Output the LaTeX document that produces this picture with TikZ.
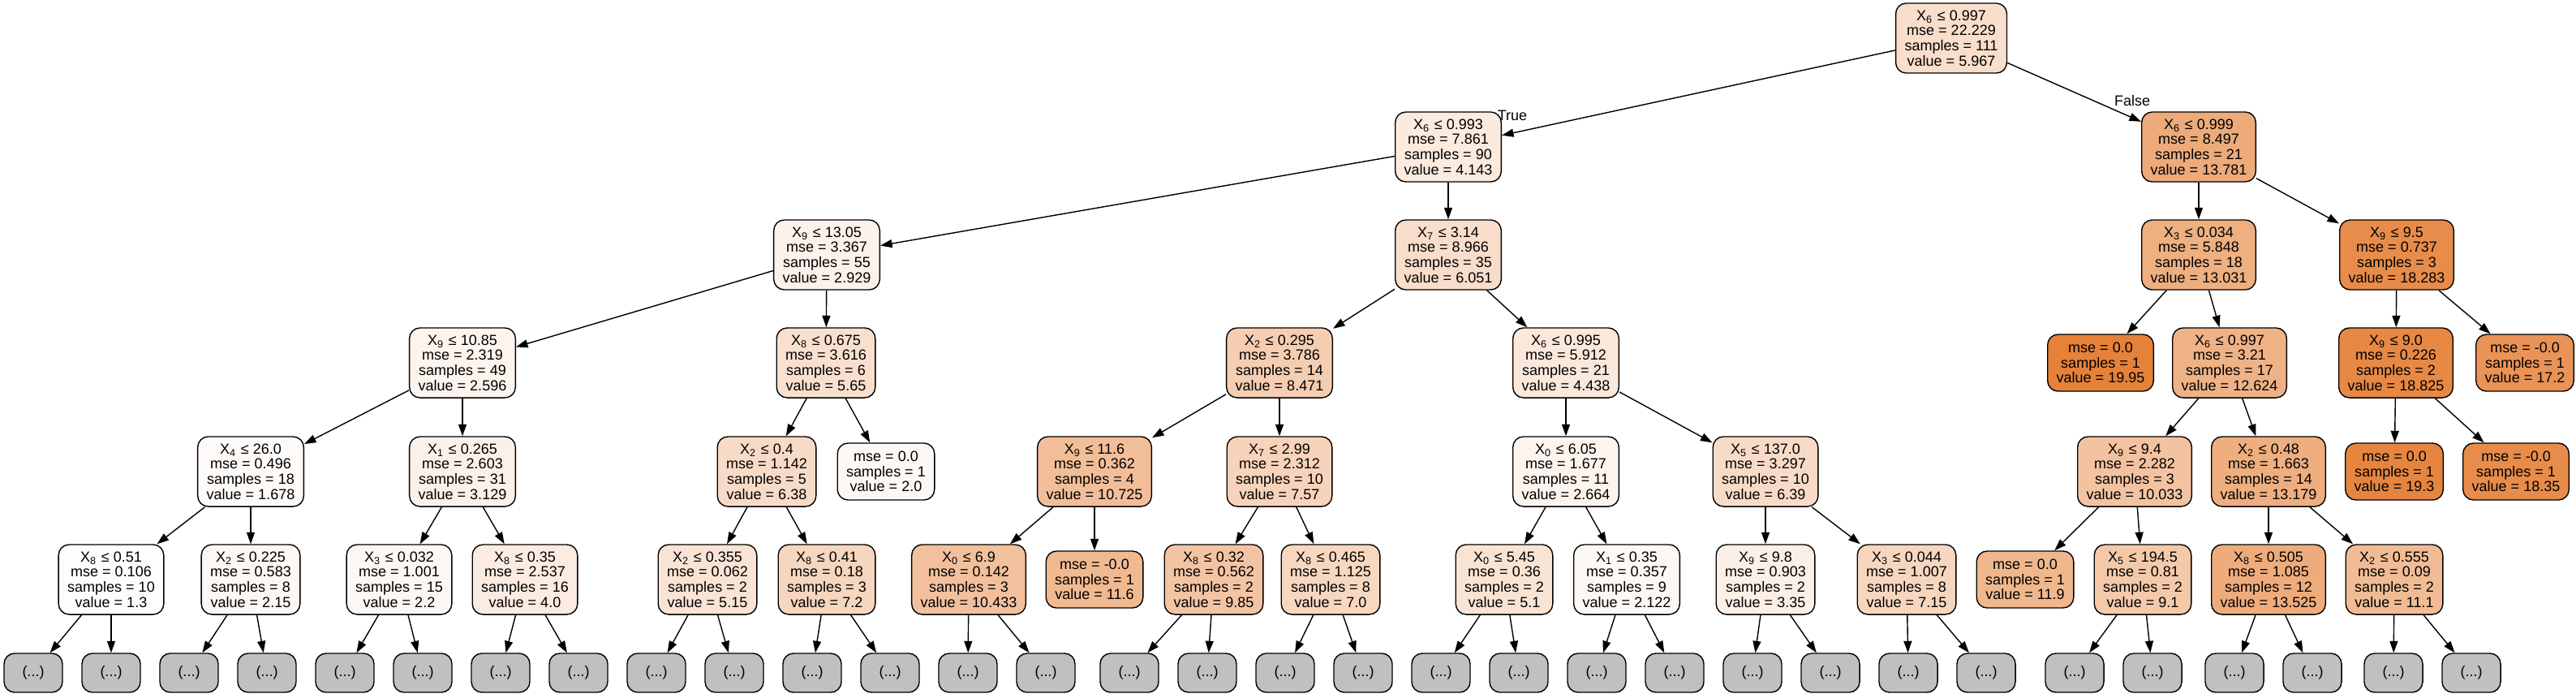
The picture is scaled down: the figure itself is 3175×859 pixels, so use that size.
\documentclass[tikz,border=0pt]{standalone}
\usepackage{fontspec}
\setmainfont{Liberation Sans}
\usetikzlibrary{arrows.meta}

\definecolor{dtorange}{RGB}{229,129,57}
\definecolor{dtgray}{RGB}{192,192,192}
\newcommand{\splitnode}[5]{X\textsubscript{#1} ≤ #2\\mse = #3\\samples = #4\\value = #5}
\newcommand{\leafnode}[3]{mse = #1\\samples = #2\\value = #3}

\begin{document}
\begin{tikzpicture}[x=0.01cm, y=-0.01cm, line width=0.4pt,
                    >={Triangle[length=0.145cm, width=0.1cm]},
                    dtfont/.style = {font=\fontsize{5.12pt}{5.3pt}\selectfont},
                    dtbox/.style = {draw, dtfont, rounded corners=0.13cm, align=center,
                                    inner xsep=0.11cm, inner ysep=0pt,
                                    minimum height=0.86cm, minimum width=0.72cm,
                                    fill=dtorange!#1!white},
                    dtpure/.style = {dtbox=#1, minimum height=0.70cm},
                    dtmore/.style = {draw, dtfont, rounded corners=0.13cm, fill=dtgray,
                                     minimum height=0.48cm, minimum width=0.72cm}
                   ]
     \useasboundingbox (0,0) rectangle (3175,859);

     \node[dtbox=26.2] (n0) at (2405,47) {\splitnode{6}{0.997}{22.229}{111}{5.967}};

     \node[dtbox=16.6] (n1) at (1785,181) {\splitnode{6}{0.993}{7.861}{90}{4.143}};
     \node[dtbox=67.4] (n2) at (2710,181) {\splitnode{6}{0.999}{8.497}{21}{13.781}};

     \node[dtbox=10.2] (n3) at (1019,314) {\splitnode{9}{13.05}{3.367}{55}{2.929}};
     \node[dtbox=26.7] (n4) at (1785,314) {\splitnode{7}{3.14}{8.966}{35}{6.051}};
     \node[dtbox=63.5] (n5) at (2710,314) {\splitnode{3}{0.034}{5.848}{18}{13.031}};
     \node[dtbox=91.2] (n6) at (2954,314) {\splitnode{9}{9.5}{0.737}{3}{18.283}};

     \node[dtbox=8.4]  (n7)  at (570,447)  {\splitnode{9}{10.85}{2.319}{49}{2.596}};
     \node[dtbox=24.5] (n8)  at (1018,447) {\splitnode{8}{0.675}{3.616}{6}{5.65}};
     \node[dtbox=39.4] (n9)  at (1577,447) {\splitnode{2}{0.295}{3.786}{14}{8.471}};
     \node[dtbox=18.1] (n10) at (1930,447) {\splitnode{6}{0.995}{5.912}{21}{4.438}};
     \node[dtpure=100] (n11) at (2589,447) {\leafnode{0.0}{1}{19.95}};
     \node[dtbox=61.3] (n12) at (2748,447) {\splitnode{6}{0.997}{3.21}{17}{12.624}};
     \node[dtbox=94.1] (n13) at (2953,447) {\splitnode{9}{9.0}{0.226}{2}{18.825}};
     \node[dtpure=85.5] (n14) at (3112,447) {\leafnode{-0.0}{1}{17.2}};

     \node[dtbox=3.6]  (n15) at (309,581)  {\splitnode{4}{26.0}{0.496}{18}{1.678}};
     \node[dtbox=11.2] (n16) at (570,581)  {\splitnode{1}{0.265}{2.603}{31}{3.129}};
     \node[dtbox=28.4] (n17) at (945,581)  {\splitnode{2}{0.4}{1.142}{5}{6.38}};
     \node[dtpure=5.3] (n18) at (1092,581) {\leafnode{0.0}{1}{2.0}};
     \node[dtbox=51.3] (n19) at (1349,581) {\splitnode{9}{11.6}{0.362}{4}{10.725}};
     \node[dtbox=34.7] (n20) at (1577,581) {\splitnode{7}{2.99}{2.312}{10}{7.57}};
     \node[dtbox=8.8]  (n21) at (1930,581) {\splitnode{0}{6.05}{1.677}{11}{2.664}};
     \node[dtbox=28.4] (n22) at (2176,581) {\splitnode{5}{137.0}{3.297}{10}{6.39}};
     \node[dtbox=47.7] (n23) at (2631,581) {\splitnode{9}{9.4}{2.282}{3}{10.033}};
     \node[dtbox=64.3] (n24) at (2796,581) {\splitnode{2}{0.48}{1.663}{14}{13.179}};
     \node[dtpure=96.6] (n25) at (2951,581) {\leafnode{0.0}{1}{19.3}};
     \node[dtpure=91.6] (n26) at (3101,581) {\leafnode{-0.0}{1}{18.35}};

     \node[dtbox=1.6]  (n27) at (137,714)  {\splitnode{8}{0.51}{0.106}{10}{1.3}};
     \node[dtbox=6.1]  (n28) at (309,714)  {\splitnode{2}{0.225}{0.583}{8}{2.15}};
     \node[dtbox=6.3]  (n29) at (492,714)  {\splitnode{3}{0.032}{1.001}{15}{2.2}};
     \node[dtbox=15.8] (n30) at (647,714)  {\splitnode{8}{0.35}{2.537}{16}{4.0}};
     \node[dtbox=21.9] (n31) at (872,714)  {\splitnode{2}{0.355}{0.062}{2}{5.15}};
     \node[dtbox=32.7] (n32) at (1019,714) {\splitnode{8}{0.41}{0.18}{3}{7.2}};
     \node[dtbox=49.8] (n33) at (1194,714) {\splitnode{0}{6.9}{0.142}{3}{10.433}};
     \node[dtpure=55.9] (n34) at (1349,714) {\leafnode{-0.0}{1}{11.6}};
     \node[dtbox=46.7] (n35) at (1496,714) {\splitnode{8}{0.32}{0.562}{2}{9.85}};
     \node[dtbox=31.7] (n36) at (1640,714) {\splitnode{8}{0.465}{1.125}{8}{7.0}};
     \node[dtbox=21.6] (n37) at (1854,714) {\splitnode{0}{5.45}{0.36}{2}{5.1}};
     \node[dtbox=5.9]  (n38) at (2005,714) {\splitnode{1}{0.35}{0.357}{9}{2.122}};
     \node[dtbox=12.4] (n39) at (2176,714) {\splitnode{9}{9.8}{0.903}{2}{3.35}};
     \node[dtbox=32.5] (n40) at (2350,714) {\splitnode{3}{0.044}{1.007}{8}{7.15}};
     \node[dtpure=57.5] (n41) at (2496,714) {\leafnode{0.0}{1}{11.9}};
     \node[dtbox=42.7] (n42) at (2641,714) {\splitnode{5}{194.5}{0.81}{2}{9.1}};
     \node[dtbox=66.1] (n43) at (2796,714) {\splitnode{8}{0.505}{1.085}{12}{13.525}};
     \node[dtbox=53.3] (n44) at (2951,714) {\splitnode{2}{0.555}{0.09}{2}{11.1}};

     \foreach \a/\b in {n0/n1, n0/n2, n1/n3, n1/n4, n2/n5, n2/n6,
                        n3/n7, n3/n8, n4/n9, n4/n10, n5/n11, n5/n12, n6/n13, n6/n14,
                        n7/n15, n7/n16, n8/n17, n8/n18, n9/n19, n9/n20, n10/n21, n10/n22,
                        n12/n23, n12/n24, n13/n25, n13/n26,
                        n15/n27, n15/n28, n16/n29, n16/n30, n17/n31, n17/n32,
                        n19/n33, n19/n34, n20/n35, n20/n36, n21/n37, n21/n38,
                        n22/n39, n22/n40, n23/n41, n23/n42, n24/n43, n24/n44}
        \draw[->] (\a) -- (\b);

     \foreach \x/\p [count=\i] in {41/n27, 137/n27, 233/n28, 329/n28, 425/n29, 521/n29,
                                   617/n30, 713/n30, 809/n31, 905/n31, 1001/n32, 1097/n32,
                                   1193/n33, 1289/n33, 1392/n35, 1488/n35, 1584/n36, 1680/n36,
                                   1776/n37, 1872/n37, 1968/n38, 2064/n38, 2160/n39, 2256/n39,
                                   2352/n40, 2448/n40, 2557/n42, 2653/n42, 2754/n43, 2850/n43,
                                   2950/n44, 3046/n44}
       {\node[dtmore] (l\i) at (\x,829) {(...)};
        \draw[->] (\p) -- (l\i);}

     \node[dtfont, inner sep=0pt] (true)  at (1864,142) {True};
     \node[dtfont, inner sep=0pt] (false) at (2628,124) {False};
\end{tikzpicture}
\end{document}
